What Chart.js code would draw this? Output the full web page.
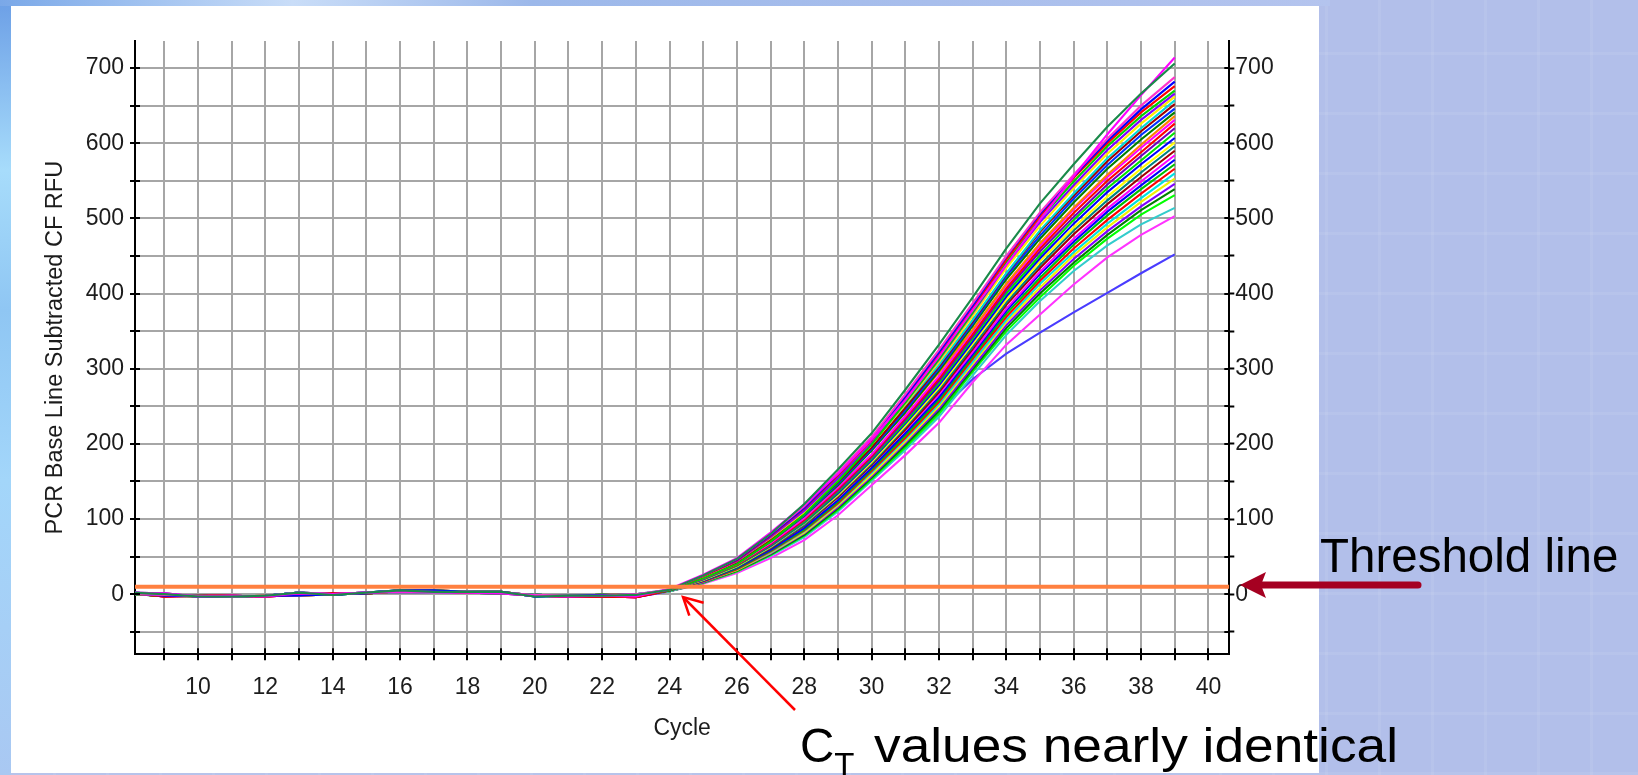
<!DOCTYPE html>
<html>
<head>
<meta charset="utf-8">
<title>PCR amplification plot</title>
<script src="https://cdn.jsdelivr.net/npm/chart.js@4.4.1/dist/chart.umd.min.js"></script>
<style>
  html, body { margin: 0; padding: 0; }
  body {
    width: 1638px; height: 775px; overflow: hidden; position: relative;
    background-color: #b2bfea;
    background-image:
      repeating-linear-gradient(90deg, rgba(255,255,255,0.07) 0 3px, transparent 3px 53px),
      repeating-linear-gradient(0deg, rgba(255,255,255,0.07) 0 3px, transparent 3px 60px);
  }
  #edge-left {
    position: absolute; left: 0; top: 0; width: 11px; height: 775px;
    background: linear-gradient(180deg, #6c9fe6 0%, #a7dcfb 22%, #8fc6f3 40%, #a3d6fa 62%, #a9c8f2 100%);
  }
  #edge-top {
    position: absolute; left: 0; top: 0; width: 1330px; height: 6px;
    background: linear-gradient(90deg, #7aa8e8 0%, #c9ddf8 22%, #9cb8ea 40%, #b4c4ee 100%);
  }
  #panel { position: absolute; left: 11px; top: 6px; width: 1308px; height: 767px; background: #fff; }
  #plot, #notes { position: absolute; left: 0; top: 0; }
</style>
</head>
<body>
<div id="edge-left"></div>
<div id="edge-top"></div>
<div id="panel"></div>
<canvas id="plot" width="1638" height="775"></canvas>
<svg id="notes" width="1638" height="775" font-family="'Liberation Sans', Arial, sans-serif">
  <line x1="1418" y1="585" x2="1258" y2="585" stroke="#a50021" stroke-width="7" stroke-linecap="round"/>
  <polygon points="1240,585 1266,572 1261,585 1266,598" fill="#a50021"/>
  <text x="1320" y="572" font-size="47.5" fill="#000">Threshold line</text>
  <line x1="795" y1="710" x2="684" y2="598" stroke="#ff0000" stroke-width="2.5"/>
  <polyline points="703.6,602.7 683,597 689.3,615.7" fill="none" stroke="#ff0000" stroke-width="2.5"/>
  <text x="800" y="762" font-size="47.5" fill="#000">C<tspan font-size="33" dy="13.5">T</tspan></text>
  <text x="874" y="762" font-size="47.5" fill="#000" textLength="524" lengthAdjust="spacingAndGlyphs">values nearly identical</text>
</svg>
<script>
// cycle numbers for every reading
const cycles = [8, 9, 10, 11, 12, 13, 14, 15, 16, 17, 18, 19, 20, 21, 22, 23,
                24, 25, 26, 27, 28, 29, 30, 31, 32, 33, 34, 35, 36, 37, 38, 39];

// background-subtracted baseline readings, cycles 8-23
const baselineRuns = [
  [2, 1, -3, -2, -3, 1, 0, 2, 4, 3, 2, 1, -2, -3, -2, -3],
  [1, -2, -3, -3, -2, -2, 0, 1, 5, 5, 3, 3, -2, -2, -1, -1],
  [0, -1, -2, -3, -2, 2, 0, 2, 3, 2, 3, 2, -1, -2, -2, 0],
  [1, -3, -2, -2, -3, -1, 1, 1, 4, 4, 2, 2, -2, -3, -3, -4],
  [2, 0, -3, -3, -2, 2, -1, 2, 5, 3, 3, 3, -3, -2, -2, -1],
  [0, -2, -2, -3, -2, 0, 0, 1, 4, 5, 2, 1, -1, -2, -1, -2],
];

// which baseline run each well uses
const wellBaselineRun = [4, 0, 2, 1, 3, 5, 0, 1, 2, 3, 4, 5, 1, 0, 3, 2, 5, 4,
                         0, 2, 1, 3, 5, 4, 2, 0, 1, 3, 4, 5, 2, 3, 1];

// amplification readings per well, cycles 24-39 (RFU)
const wellRfu = [
  [6, 25, 47, 80, 120, 166, 214, 272, 332, 395, 460, 520, 572, 622, 666, 706],
  [7, 26, 48, 82, 119, 160, 206, 258, 316, 378, 438, 498, 556, 612, 664, 714],
  [6, 25, 47, 80, 117, 162, 209, 266, 325, 387, 450, 508, 558, 606, 650, 688],
  [6, 25, 46, 79, 115, 160, 207, 263, 322, 384, 449, 506, 556, 603, 645, 682],
  [6, 24, 45, 78, 114, 158, 205, 261, 318, 380, 445, 503, 554, 600, 641, 676],
  [5, 21, 40, 70, 106, 150, 199, 255, 313, 375, 441, 499, 549, 596, 636, 670],
  [6, 24, 44, 76, 111, 154, 201, 255, 312, 374, 438, 495, 544, 591, 631, 666],
  [6, 23, 44, 75, 109, 153, 199, 253, 309, 370, 434, 490, 540, 586, 626, 662],
  [6, 24, 45, 77, 112, 155, 200, 252, 305, 365, 427, 484, 533, 580, 620, 657],
  [5, 23, 42, 72, 107, 149, 195, 248, 303, 363, 426, 482, 530, 576, 616, 652],
  [5, 22, 42, 71, 105, 147, 193, 245, 300, 360, 423, 477, 526, 571, 611, 646],
  [5, 22, 41, 70, 104, 145, 191, 242, 297, 357, 419, 473, 521, 566, 605, 641],
  [6, 24, 44, 74, 108, 148, 192, 242, 295, 352, 413, 467, 514, 558, 598, 636],
  [5, 21, 40, 68, 101, 142, 186, 237, 290, 350, 411, 464, 512, 555, 594, 631],
  [5, 21, 39, 67, 99, 140, 184, 235, 287, 346, 407, 460, 507, 550, 588, 626],
  [5, 20, 39, 66, 98, 138, 182, 232, 284, 343, 404, 456, 502, 545, 583, 620],
  [5, 20, 38, 65, 96, 136, 180, 229, 281, 340, 400, 451, 498, 540, 577, 614],
  [5, 20, 38, 64, 95, 134, 178, 227, 278, 336, 396, 447, 493, 535, 572, 607],
  [5, 19, 37, 63, 94, 132, 176, 224, 275, 333, 392, 443, 488, 529, 566, 601],
  [5, 19, 36, 62, 92, 131, 174, 222, 272, 329, 388, 438, 484, 524, 561, 596],
  [5, 19, 36, 61, 91, 129, 172, 219, 269, 326, 385, 434, 479, 519, 555, 590],
  [6, 21, 39, 65, 95, 132, 173, 218, 266, 322, 380, 429, 473, 513, 549, 584],
  [5, 18, 35, 59, 88, 125, 168, 214, 262, 319, 377, 426, 469, 509, 544, 578],
  [5, 18, 34, 58, 86, 123, 166, 211, 259, 316, 373, 421, 465, 504, 539, 572],
  [5, 17, 33, 57, 85, 121, 164, 208, 256, 313, 369, 417, 460, 498, 533, 566],
  [4, 17, 33, 56, 84, 120, 162, 206, 253, 309, 365, 413, 455, 493, 527, 560],
  [4, 17, 32, 55, 82, 118, 159, 203, 250, 306, 362, 408, 451, 488, 522, 553],
  [4, 16, 32, 54, 81, 116, 157, 201, 247, 302, 358, 404, 446, 483, 516, 546],
  [4, 16, 31, 53, 79, 114, 155, 198, 244, 299, 354, 400, 441, 478, 511, 539],
  [4, 15, 30, 52, 78, 112, 153, 195, 240, 296, 350, 395, 437, 473, 505, 531],
  [4, 15, 30, 51, 76, 110, 151, 192, 236, 291, 345, 390, 430, 464, 492, 514],
  [4, 14, 28, 48, 72, 105, 145, 185, 228, 282, 332, 372, 412, 448, 478, 503],
  [5, 17, 32, 55, 82, 115, 152, 197, 243, 286, 320, 348, 375, 401, 427, 452],
];

const wellColors = [
  '#1a8a4a', '#ff00ff', '#ff33cc', '#0000ff', '#ff0000', '#00d000', '#8000ff', '#ffee00',
  '#00d8d8', '#a00000', '#0030ff', '#008000', '#ff8000', '#ff00ff', '#ff0000', '#7000c0',
  '#00e000', '#0000ff', '#ffff00', '#008080', '#a00000', '#ff00ff', '#0000ff', '#00c000',
  '#ff0000', '#00e0e0', '#f0f000', '#8000ff', '#008000', '#00ff00', '#33cccc', '#ff33ff',
  '#4a3cff',
];

const thresholdRfu = 10;
const cycleMin = 8.13, cycleMax = 40.62;
const rfuMin = -80, rfuMax = 736;

const inkColor = '#1c1c1c';
const gridGrey = '#a6a6a6';

// short marks on the inner side of each axis
const innerTicks = {
  id: 'innerTicks',
  afterDraw(chart) {
    const { ctx, chartArea, scales } = chart;
    ctx.save();
    ctx.strokeStyle = '#000';
    ctx.lineWidth = 2;
    ctx.beginPath();
    scales.x.ticks.forEach((t) => {
      const px = Math.round(scales.x.getPixelForValue(t.value));
      ctx.moveTo(px, chartArea.bottom);
      ctx.lineTo(px, chartArea.bottom - 6);
    });
    scales.y.ticks.forEach((t) => {
      const py = Math.round(scales.y.getPixelForValue(t.value));
      ctx.moveTo(chartArea.left, py);
      ctx.lineTo(chartArea.left + 5, py);
      ctx.moveTo(chartArea.right, py);
      ctx.lineTo(chartArea.right - 5, py);
    });
    ctx.stroke();
    ctx.restore();
  },
};

const wellDatasets = wellRfu.map((amp, i) => {
  const values = baselineRuns[wellBaselineRun[i]].concat(amp);
  return {
    data: values.map((v, k) => ({ x: cycles[k], y: v })),
    borderColor: wellColors[i],
    borderWidth: 2.1,
    pointRadius: 0,
    tension: 0,
    order: 1,
  };
});

const thresholdDataset = {
  data: [{ x: cycleMin, y: thresholdRfu }, { x: cycleMax, y: thresholdRfu }],
  borderColor: '#ff8040',
  borderWidth: 4,
  pointRadius: 0,
  order: 0,
};

const rfuLabel = (v) => (v % 100 === 0 ? v : '');

Chart.defaults.font.family = "'Liberation Sans', Arial, sans-serif";

new Chart(document.getElementById('plot'), {
  type: 'line',
  data: { datasets: [thresholdDataset, ...wellDatasets] },
  options: {
    responsive: false,
    animation: false,
    events: [],
    layout: { padding: { left: 0, top: 41, right: 348.7, bottom: 20.7 } },
    plugins: { legend: { display: false }, tooltip: { enabled: false } },
    scales: {
      x: {
        type: 'linear',
        min: cycleMin,
        max: cycleMax,
        afterFit: (scale) => { scale.height = 100; },
        grid: { color: gridGrey, lineWidth: 2, tickLength: 6, tickColor: '#000', tickWidth: 2 },
        border: { color: '#000', width: 2 },
        ticks: {
          stepSize: 1,
          includeBounds: false,
          autoSkip: false,
          maxRotation: 0,
          padding: 14,
          color: inkColor,
          font: { size: 23 },
          callback: (v) => (v % 2 === 0 && v >= 10 ? v : ''),
        },
        title: { display: true, text: 'Cycle', color: inkColor, font: { size: 23 }, padding: { bottom: 12 } },
      },
      y: {
        position: 'left',
        min: rfuMin,
        max: rfuMax,
        afterFit: (scale) => { scale.width = 135; },
        grid: { color: gridGrey, lineWidth: 2, tickLength: 5, tickColor: '#000', tickWidth: 2 },
        border: { color: '#000', width: 2 },
        ticks: { stepSize: 50, includeBounds: false, autoSkip: false, padding: 6, color: inkColor, font: { size: 23 }, callback: rfuLabel },
        title: {
          display: true, text: 'PCR Base Line Subtracted CF RFU', color: inkColor,
          font: { size: 23.5 }, padding: { top: 41.6 },
        },
      },
      y2: {
        position: 'right',
        min: rfuMin,
        max: rfuMax,
        afterFit: (scale) => { scale.width = 60; },
        grid: { drawOnChartArea: false, tickLength: 5, tickColor: '#000', tickWidth: 2 },
        border: { color: '#000', width: 2 },
        ticks: { stepSize: 50, includeBounds: false, autoSkip: false, padding: 1, color: inkColor, font: { size: 23 }, callback: rfuLabel },
      },
    },
  },
  plugins: [innerTicks],
});
</script>
</body>
</html>
